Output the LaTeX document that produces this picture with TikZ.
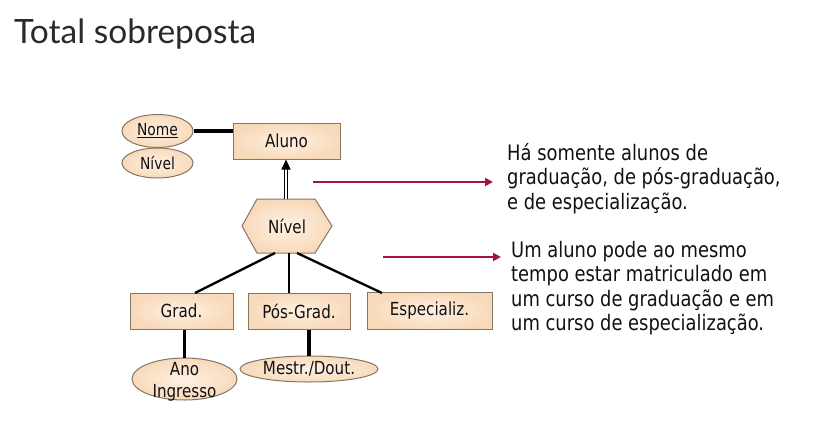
\documentclass[tikz,border=0pt]{standalone}
\usepackage{fontspec}
\usetikzlibrary{shapes.geometric,arrows.meta,calc}
\newfontfamily\tah[FakeStretch=0.84]{DejaVu Sans}
\newfontfamily\ttl{Lato}
\definecolor{boxin}{HTML}{FEF1E3}
\definecolor{boxout}{HTML}{F8DABB}
\definecolor{boxline}{HTML}{857664}
\definecolor{redarr}{HTML}{A3143C}
\definecolor{ttlcol}{HTML}{2A2A2A}
\definecolor{txtcol}{HTML}{111111}
\begin{document}
\begin{tikzpicture}[x=1pt,y=-1pt,
  ent/.style={draw=boxline, line width=1pt, inner color=boxin, outer color=boxout,
    rectangle, inner sep=0pt, font=\tah\fontsize{18}{20}\selectfont, text=txtcol},
  attr/.style={draw=boxline, line width=1pt, inner color=boxin, outer color=boxout,
    ellipse, inner sep=0pt, font=\tah\fontsize{17}{20}\selectfont, text=txtcol},
  conn/.style={line width=2.3pt, black},
  thick conn/.style={line width=3.2pt, black},
  redarrow/.style={line width=2.8pt, redarr, -{Triangle[length=8pt,width=8pt]}},
  note/.style={font=\tah\fontsize{21.3}{24.5}\selectfont, text=txtcol, align=left, inner sep=0pt}
]
\useasboundingbox (0,0) rectangle (834,433);
\fill[white] (0,0) rectangle (834,433);

% title
\node[anchor=base west, inner sep=0pt, font=\ttl\fontsize{33.5}{36}\selectfont, text=ttlcol] (title) at (14,44) {Total sobreposta};

% entities
\node[ent, minimum width=107pt, minimum height=36pt] (aluno) at (286.5,141) {Aluno};
\node[ent, minimum width=103pt, minimum height=36pt] (grad) at (181.5,311) {Grad.};
\node[ent, minimum width=102pt, minimum height=36pt] (pos) at (299,311) {Pós-Grad.};
\node[ent, minimum width=125pt, minimum height=37pt] (esp) at (429.5,311) {Especializ.};

% attributes
\node[attr, minimum width=71pt, minimum height=33pt, font=\tah\fontsize{16.5}{20}\selectfont] (nome) at (157.5,131) {\underline{Nome}};
\node[attr, minimum width=71pt, minimum height=30pt, font=\tah\fontsize{16.5}{20}\selectfont] (nivel) at (157.5,163) {Nível};
\node[attr, minimum width=105pt, minimum height=42pt,
  label={[font=\tah\fontsize{18}{22}\selectfont, text=txtcol, align=center, inner sep=0pt, yshift=-3pt]center:Ano\\Ingresso}] (ano) at (184.5,379) {};
\node[attr, minimum width=138pt, minimum height=26pt, font=\tah\fontsize{18}{20}\selectfont] (mestr) at (309,369) {Mestr./Dout.};

% hexagon (specialization)
\coordinate (hexc) at (287,226);
\draw[draw=boxline, line width=1pt, inner color=boxin, outer color=boxout]
  ($(hexc)+(-45,0)$) -- ($(hexc)+(-30,-27)$) -- ($(hexc)+(28,-27)$) -- ($(hexc)+(45,0)$)
  -- ($(hexc)+(28,27)$) -- ($(hexc)+(-30,27)$) -- cycle;
\node[inner sep=0pt, font=\tah\fontsize{18}{20}\selectfont, text=txtcol] (hex) at (hexc) {Nível};
\coordinate (hexN) at (286,199);
\coordinate (h1) at (275,253);
\coordinate (h2) at (289,253);
\coordinate (h3) at (297,253);
\coordinate (g1) at (195,293);
\coordinate (p1) at (289,293);
\coordinate (e1) at (382,293);

% connectors
\draw[thick conn] (nome.east) -- (nome.east -| aluno.west);
\draw[double=white, double distance=2pt, line width=0.9pt, -{Triangle[length=10pt,width=9pt]}] (hexN) -- (hexN |- aluno.south);
\draw[conn] (h1) -- (g1);
\draw[conn] (h2) -- (p1);
\draw[conn] (h3) -- (e1);
\draw[conn] (grad.south -| ano.north) -- (ano.north);
\draw[thick conn] (pos.south -| mestr.north) -- (mestr.north);

% notes
\coordinate (r1s) at (313,182);
\coordinate (r1e) at (493,182);
\coordinate (r2s) at (383,257);
\coordinate (r2e) at (501,257);
\draw[redarrow] (r1s) -- (r1e);
\draw[redarrow] (r2s) -- (r2e);
\node[note, anchor=base west] (n1) at (507,209) {Há somente alunos de\\graduação, de pós-graduação,\\e de especialização.};
\node[note, anchor=base west] (n2) at (511,330.5) {Um aluno pode ao mesmo\\tempo estar matriculado em\\um curso de graduação e em\\um curso de especialização.};
\end{tikzpicture}
\end{document}
